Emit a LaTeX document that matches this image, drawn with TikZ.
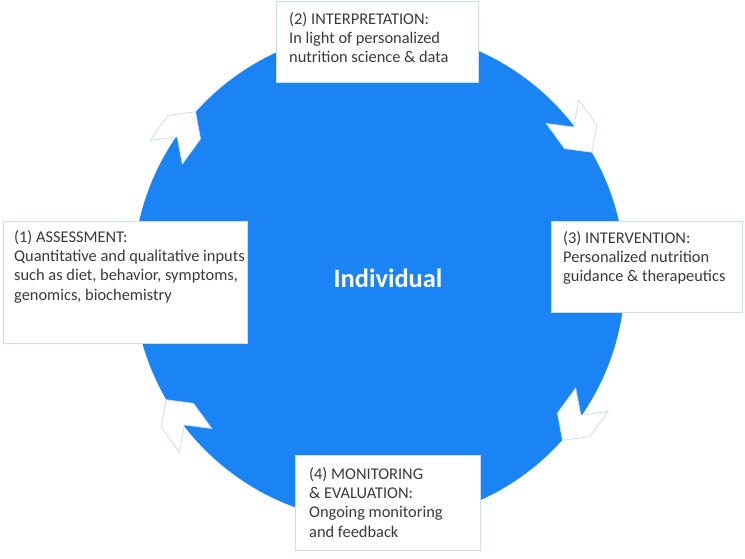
\documentclass[tikz,border=0pt]{standalone}
\usepackage{fontspec}
\setmainfont{Carlito}
\definecolor{Cycle}{HTML}{1A84F4}
\definecolor{Rim}{HTML}{C9DEF2}
\definecolor{Ink}{HTML}{3A3A3A}
\usetikzlibrary{positioning}

\tikzset{
  stagebox/.style={draw=Rim, line width=0.8pt, fill=white, anchor=north west, inner sep=0pt},
  stagetext/.style={anchor=north west, inner sep=0pt, align=left, text=Ink,
    font=\fontsize{16.4}{19.4}\selectfont},
  chevron/.style={draw=Rim, line width=0.8pt, fill=white, line join=miter}
}

\begin{document}
\begin{tikzpicture}[x=1pt, y=1pt]
\useasboundingbox (0,0) rectangle (745,558);
% the cycle
\fill[Cycle] (379,282) circle (246);
\node[font=\bfseries\fontsize{26.4}{30}\selectfont, text=white] (indiv) at (388,280) {Individual};
% chevrons on the rim, clockwise
\foreach \a in {144,36,-36,216}
  \draw[chevron, shift={(379,282)}, shift={(\a:245)}, rotate=\a-90]
    (-25,20) -- (6,20) -- (25,0) -- (6,-20) -- (-25,-20) -- (-6,0) -- cycle;
% boxes, listed in cycle order
\node[stagebox, minimum width=244pt, minimum height=122pt] (assess) at (3,337) {};
\node[stagebox, minimum width=202pt, minimum height=81pt] (interp) at (276,557) {};
\node[stagebox, minimum width=191pt, minimum height=91pt] (interv) at (551,337) {};
\node[stagebox, minimum width=185pt, minimum height=95pt] (monit) at (295,103) {};
\node[stagetext] (assesstext) at ([shift={(11,-9)}]assess.north west)
  {(1) ASSESSMENT:\\Quantitative and qualitative inputs\\such as diet, behavior, symptoms,\\genomics, biochemistry};
\node[stagetext] (interptext) at ([shift={(13,-11)}]interp.north west)
  {(2) INTERPRETATION:\\In light of personalized\\nutrition science \& data};
\node[stagetext] (intervtext) at ([shift={(12,-10)}]interv.north west)
  {(3) INTERVENTION:\\Personalized nutrition\\guidance \& therapeutics};
\node[stagetext] (monittext) at ([shift={(14,-12)}]monit.north west)
  {(4) MONITORING\\\& EVALUATION:\\Ongoing monitoring\\and feedback};
\end{tikzpicture}
\end{document}
